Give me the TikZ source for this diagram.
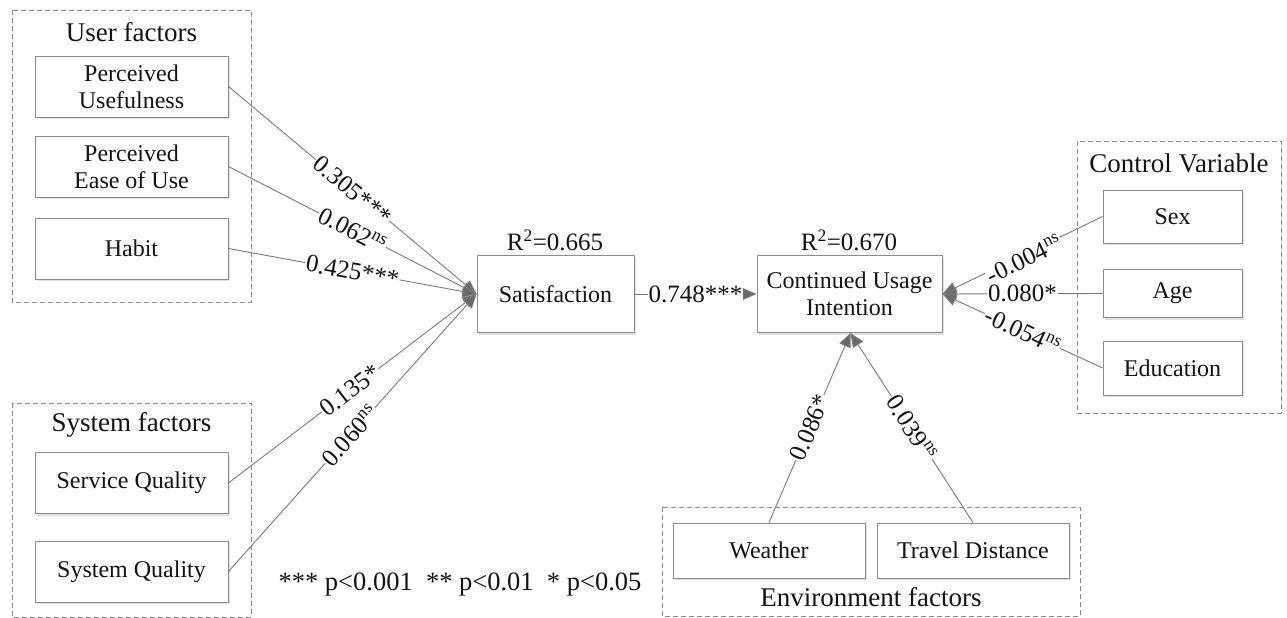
\documentclass[tikz,border=0pt]{standalone}
\usepackage{fontspec}
\setmainfont{Liberation Serif}
\usetikzlibrary{arrows.meta,shadows}
\definecolor{linegray}{HTML}{7A7A7A}
\definecolor{tipgray}{HTML}{6A6A6A}
\definecolor{boxgray}{HTML}{8C8C8C}
\definecolor{txt}{HTML}{141414}
\tikzset{
  varbox/.style={draw=boxgray, line width=0.9pt, fill=white, align=center,
    minimum width=193pt, minimum height=61pt, inner sep=0pt, text=txt,
    font=\fontsize{24}{27}\selectfont,
    drop shadow={shadow xshift=2pt, shadow yshift=-2pt, fill=black!12, opacity=1}},
  groupbox/.style={draw=boxgray, dashed, line width=0.8pt, dash pattern=on 5pt off 3pt},
  grouptitle/.style={text=txt, font=\fontsize{27}{30}\selectfont, inner sep=0pt},
  path/.style={draw=linegray, line width=0.9pt, -{Triangle[length=14pt,width=12pt,fill=tipgray]}},
  coef/.style={fill=white, inner sep=1pt, text=txt, font=\fontsize{25}{28}\selectfont, sloped},
  rsq/.style={text=txt, font=\fontsize{25}{28}\selectfont, inner sep=0pt},
  note/.style={text=txt, font=\fontsize{26.5}{30}\selectfont, inner sep=0pt},
}
\begin{document}
\begin{tikzpicture}[x=1pt,y=-1pt]
\useasboundingbox (0,0) rectangle (1287,618);
% group boxes
\draw[groupbox] (12,10) rectangle (251,302);
\draw[groupbox] (12,403) rectangle (251,617);
\draw[groupbox] (1077,141) rectangle (1281,413);
\draw[groupbox] (662,507) rectangle (1080,616);
\node[grouptitle] (tuser) at (131.5,32) {User factors};
\node[grouptitle] (tsys) at (131.5,425) {System factors};
\node[grouptitle] (tctrl) at (1179,163) {Control Variable};
\node[grouptitle] (tenv) at (871,597) {Environment factors};
% variables
\node[varbox] (pu) at (131.5,86.5) {Perceived\\Usefulness};
\node[varbox] (peu) at (131.5,166.5) {Perceived\\Ease of Use};
\node[varbox] (hab) at (131.5,248.5) {Habit};
\node[varbox] (serq) at (131.5,483) {Service Quality};
\node[varbox] (sysq) at (131.5,571.5) {System Quality};
\node[varbox, minimum width=157pt, minimum height=77pt] (sat) at (555.5,294) {Satisfaction};
\node[varbox, minimum width=185pt, minimum height=77pt] (cui) at (849.5,294) {Continued Usage\\Intention};
\node[varbox, minimum width=139pt, minimum height=53pt] (sex) at (1172.5,216.5) {Sex};
\node[varbox, minimum width=139pt, minimum height=48pt] (age) at (1172.5,293.5) {Age};
\node[varbox, minimum width=139pt, minimum height=54pt] (edu) at (1172.5,368) {Education};
\node[varbox, minimum width=192pt, minimum height=55pt] (wea) at (769,550.5) {Weather};
\node[varbox, minimum width=192pt, minimum height=55pt] (trd) at (973,550.5) {Travel Distance};
% R squared
\node[rsq] (r1) at (555,240) {R\textsuperscript{2}=0.665};
\node[rsq] (r2) at (849,240) {R\textsuperscript{2}=0.670};
% anchor points
\coordinate (satin) at (sat.west);
\coordinate (cuibot) at ([xshift=1pt]cui.south);
% paths
\draw[path] (pu.east) -- node[coef, pos=0.5] {0.305***} (satin);
\draw[path] (peu.east) -- node[coef, pos=0.5] {0.062\textsuperscript{ns}} (satin);
\draw[path] (hab.east) -- node[coef, pos=0.5] {0.425***} (satin);
\draw[path] (serq.east) -- node[coef, pos=0.49] {0.135*} (satin);
\draw[path] (sysq.east) -- node[coef, pos=0.49] {0.060\textsuperscript{ns}} (satin);
\draw[path] (sat.east) -- node[coef, pos=0.5] {0.748***} (cui.west);
\draw[path] (sex.west) -- node[coef, pos=0.5, yshift=-4pt] {-0.004\textsuperscript{ns}} (cui.east);
\draw[path] (age.west) -- node[coef, pos=0.5] {0.080*} (cui.east);
\draw[path] (edu.west) -- node[coef, pos=0.5] {-0.054\textsuperscript{ns}} (cui.east);
\draw[path] (wea.north) -- node[coef, pos=0.5] {0.086*} (cuibot);
\draw[path] (trd.north) -- node[coef, pos=0.5] {0.039\textsuperscript{ns}} (cuibot);
% note
\node[note] (pnote) at (460,585) {*** p<0.001\ \ ** p<0.01\ \ * p<0.05};
\end{tikzpicture}
\end{document}
